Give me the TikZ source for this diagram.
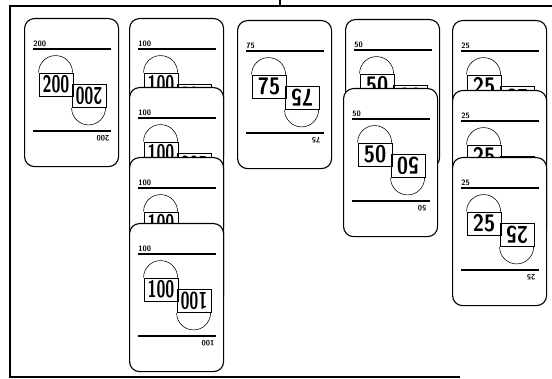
\documentclass[tikz,border=0pt]{standalone}
\usepackage{tikz}
\usetikzlibrary{calc}

\begin{document}
\begin{tikzpicture}[x=0.025cm, y=0.025cm,
    cardbox/.style={rectangle,
      draw,
      thick,
      fill=white,
      rounded corners=0.25cm,
      minimum width=2.35cm,
      minimum height=3.7cm,
      anchor=north west,
      inner sep=0pt},
    numbox/.style={rectangle,
      draw,
      semithick,
      minimum width=0.85cm,
      minimum height=0.575cm,
      inner sep=0pt,
      font=\fontsize{17}{17}\selectfont\sffamily\bfseries},
    smalllabel/.style={inner sep=0pt,
      font=\fontsize{5.5}{6}\selectfont\sffamily\bfseries},
    bar/.style={line width=2pt},
    pics/card/.style 2 args={code={
      \node[cardbox] (-box) at (0,0) {};
      \node[smalllabel, anchor=west] (-top) at (9,-26) {#1};
      \draw[bar] (9,-31) -- (87,-31);
      \node[numbox] (-num) at (32,-66.5) {\scalebox{#2}[1]{#1}};
      \node[numbox, rotate=180] (-numr) at (65,-78) {\scalebox{#2}[1]{#1}};
      \draw (-num.north west) arc[start angle=180, end angle=0, radius=17];
      \draw (-numr.north east) arc[start angle=180, end angle=360, radius=17];
      \draw[bar] (9,-113) -- (87,-113);
      \node[smalllabel, rotate=180] (-bot) at (79,-120) {#1};
    }}]

  \useasboundingbox (0,0) rectangle (552,-379);

  % frame
  \draw[line width=1.5pt] (552,-6) -- (10,-6) -- (10,-377) -- (460,-377);
  \draw[line width=1.2pt] (280,0) -- (280,-6);


  \pic (c200) at (24,-18) {card={200}{0.68}};


  \pic (c100a) at (129,-18) {card={100}{0.68}};

  \pic (c100b) at ($(c100a-box.north west)+(0,-69)$) {card={100}{0.68}};

  \pic (c100c) at ($(c100b-box.north west)+(0,-70)$) {card={100}{0.68}};

  \pic (c100d) at ($(c100c-box.north west)+(0,-66)$) {card={100}{0.68}};


  \pic (c75) at (237,-20) {card={75}{0.85}};


  \pic (c50a) at (345,-19) {card={50}{0.85}};

  \pic (c50b) at ($(c50a-box.north west)+(-2,-69)$) {card={50}{0.85}};


  \pic (c25a) at (452,-20) {card={25}{0.85}};

  \pic (c25b) at ($(c25a-box.north west)+(0,-70)$) {card={25}{0.85}};

  \pic (c25c) at ($(c25b-box.north west)+(0,-67)$) {card={25}{0.85}};

\end{tikzpicture}
\end{document}
